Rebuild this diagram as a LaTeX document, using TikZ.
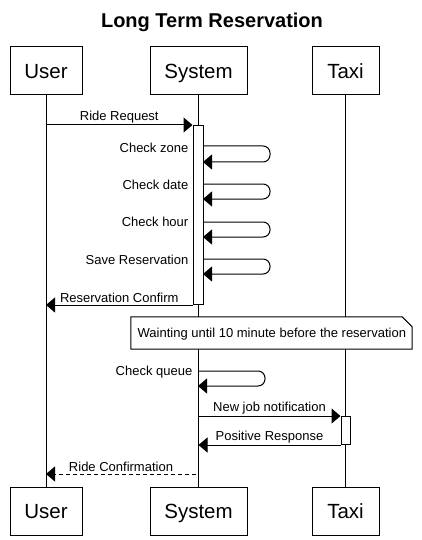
\documentclass[tikz,border=0pt]{standalone}
\usepackage{fontspec}
\setmainfont{Liberation Sans}
\usetikzlibrary{arrows.meta}
\begin{document}
\begin{tikzpicture}[x=1pt,y=-1pt,
  actor/.style={draw, line width=1pt, minimum height=48pt, inner sep=0pt, text height=15.5pt, text depth=0pt, font=\fontsize{20.5}{24}\selectfont},
  msg/.style={line width=1pt, -{Triangle[length=9pt,width=15pt]}},
  lbl/.style={font=\fontsize{13}{15}\selectfont, inner sep=1.5pt},
  actbar/.style={draw, fill=white, line width=1pt, inner sep=0pt, anchor=north},
  lifeline/.style={line width=1pt}
]
\useasboundingbox (0,0) rectangle (422,540);
\node[font=\bfseries\fontsize{20}{24}\selectfont] (title) at (212,22) {Long Term Reservation};
% actors
\node[actor, minimum width=72pt] (ut) at (46,71) {User};
\node[actor, minimum width=97pt] (st) at (198.5,71) {System};
\node[actor, minimum width=67pt] (tt) at (345.5,71) {Taxi};
\node[actor, minimum width=72pt] (ub) at (46,511) {User};
\node[actor, minimum width=97pt] (sb) at (198.5,511) {System};
\node[actor, minimum width=67pt] (tb) at (345.5,511) {Taxi};
% lifelines
\draw[lifeline] (ut) -- (ub);
\draw[lifeline] (st) -- (sb);
\draw[lifeline] (tt) -- (tb);
% activation bars
\node[actbar, minimum width=10pt, minimum height=179pt] (sa) at (198,125) {};
\node[actbar, minimum width=9pt, minimum height=28pt] (ta) at (345.5,416) {};
% Ride Request
\coordinate (u1) at (ut.south |- sa.north);
\draw[msg] (u1) -- (sa.north west) node[lbl, midway, above] (l1) {Ride Request};
% self calls
\coordinate (z1) at (203,146); \coordinate (z2) at (203,162);
\draw[msg, rounded corners=7pt] (z1) -- (270,146) -- (270,162) -- (z2);
\node[lbl, anchor=east] (l2) at (190,148) {Check zone};
\coordinate (d1) at (203,184); \coordinate (d2) at (203,199);
\draw[msg, rounded corners=7pt] (d1) -- (270,184) -- (270,199) -- (d2);
\node[lbl, anchor=east] (l3) at (190,185) {Check date};
\coordinate (h1) at (203,222); \coordinate (h2) at (203,237);
\draw[msg, rounded corners=7pt] (h1) -- (270,222) -- (270,237) -- (h2);
\node[lbl, anchor=east] (l4) at (190,222) {Check hour};
\coordinate (s1) at (203,259); \coordinate (s2) at (203,274);
\draw[msg, rounded corners=7pt] (s1) -- (270,259) -- (270,274) -- (s2);
\node[lbl, anchor=east] (l5) at (190,260) {Save Reservation};
% Reservation Confirm
\coordinate (u2) at (ut.south |- sa.south);
\draw[msg] (sa.south west) -- (u2) node[lbl, midway, above] (l6) {Reservation Confirm};
% note
\node[minimum width=281pt, minimum height=32pt, inner sep=0pt] (note) at (271.5,333) {};
\draw[line width=1pt, fill=white] (note.north west) -- ([xshift=-10pt]note.north east) -- ([yshift=-10pt]note.north east) -- (note.south east) -- (note.south west) -- cycle;
\node[lbl, anchor=west] (notetext) at (136,334) {Wainting until 10 minute before the reservation};
% Check queue
\coordinate (q1) at (198,371); \coordinate (q2) at (198,386);
\draw[msg, rounded corners=7pt] (q1) -- (265,371) -- (265,386) -- (q2);
\node[lbl, anchor=east] (l7) at (194,372) {Check queue};
% New job notification
\coordinate (sj) at (st.south |- ta.north);
\draw[msg] (sj) -- (ta.north west) node[lbl, midway, above] (l8) {New job notification};
% Positive Response
\coordinate (sp) at (st.south |- ta.south);
\draw[msg] (ta.south west) -- (sp) node[lbl, midway, above] (l9) {Positive Response};
% Ride Confirmation
\coordinate (rc1) at (196,474); \coordinate (rc2) at (ut.south |- rc1);
\draw[msg, dash pattern=on 4pt off 3pt] (rc1) -- (rc2) node[lbl, midway, above] (l10) {Ride Confirmation};
\end{tikzpicture}
\end{document}
